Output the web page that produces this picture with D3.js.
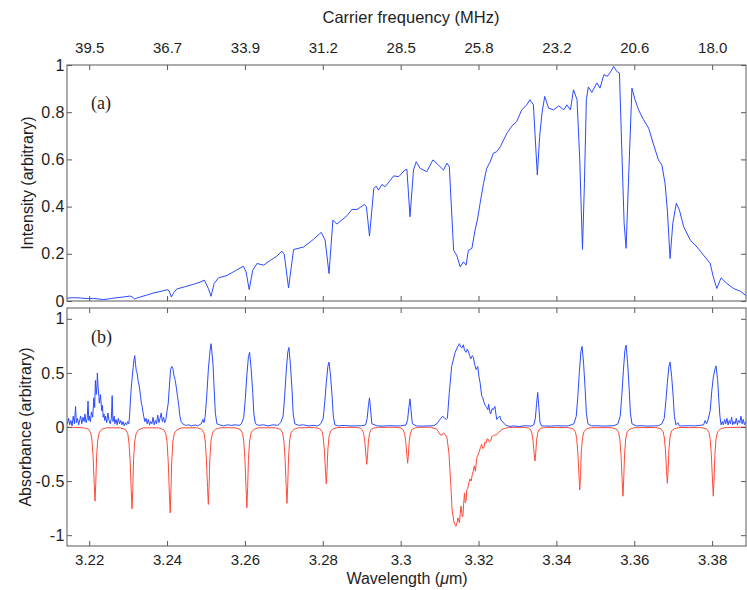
<!DOCTYPE html>
<html><head><meta charset="utf-8">
<script src="https://cdn.jsdelivr.net/npm/d3@7"></script>
<style>
html,body{margin:0;padding:0;background:#fff;}
svg{display:block;}
text{font-family:"Liberation Sans",Arial,Helvetica,sans-serif;}
</style></head><body>
<svg id="chart" width="747" height="590"></svg>
<script>
// ---- tick values / labels ----
const xTicks = [3.22, 3.24, 3.26, 3.28, 3.30, 3.32, 3.34, 3.36, 3.38];
const xTickLabels = ["3.22", "3.24", "3.26", "3.28", "3.3", "3.32", "3.34", "3.36", "3.38"];
const freqLabels = ["39.5", "36.7", "33.9", "31.2", "28.5", "25.8", "23.2", "20.6", "18.0"];
const yTicksA = [0, 0.2, 0.4, 0.6, 0.8, 1];
const yTickLabelsA = ["0", "0.2", "0.4", "0.6", "0.8", "1"];
const yTicksB = [-1, -0.5, 0, 0.5, 1];
const yTickLabelsB = ["-1", "-0.5", "0", "0.5", "1"];

// ---- panel (a): intensity spectrum ----
const wavelengthA = [3.2143,3.2160,3.2177,3.2194,3.2211,3.2237,3.2254,3.2271,3.2288,3.2305,3.2312,3.2316,3.2322,3.2331,3.2348,3.2365,3.2382,3.2400,3.2405,3.2411,3.2417,3.2425,3.2445,3.2468,3.2485,3.2496,3.2506,3.2513,3.2521,3.2532,3.2554,3.2575,3.2596,3.2603,3.2611,3.2620,3.2631,3.2648,3.2665,3.2682,3.2695,3.2701,3.2712,3.2725,3.2751,3.2776,3.2796,3.2806,3.2816,3.2826,3.2836,3.2862,3.2875,3.2888,3.2907,3.2912,3.2920,3.2931,3.2937,3.2943,3.2952,3.2960,3.2982,3.2995,3.3011,3.3016,3.3024,3.3033,3.3040,3.3050,3.3067,3.3083,3.3097,3.3110,3.3119,3.3125,3.3136,3.3144,3.3153,3.3161,3.3168,3.3174,3.3183,3.3191,3.3197,3.3204,3.3213,3.3221,3.3230,3.3238,3.3247,3.3256,3.3273,3.3286,3.3298,3.3311,3.3324,3.3332,3.3341,3.3345,3.3351,3.3357,3.3363,3.3370,3.3380,3.3393,3.3406,3.3419,3.3427,3.3436,3.3444,3.3453,3.3460,3.3467,3.3472,3.3477,3.3482,3.3491,3.3504,3.3512,3.3522,3.3531,3.3540,3.3547,3.3555,3.3562,3.3568,3.3574,3.3579,3.3585,3.3594,3.3602,3.3611,3.3624,3.3637,3.3650,3.3662,3.3671,3.3679,3.3685,3.3692,3.3699,3.3708,3.3716,3.3727,3.3744,3.3761,3.3778,3.3795,3.3803,3.3812,3.3823,3.3838,3.3855,3.3872,3.3889];
const intensityA = [0.012,0.014,0.013,0.010,0.011,0.006,0.010,0.014,0.017,0.021,0.016,0.008,0.012,0.017,0.025,0.034,0.040,0.048,0.044,0.017,0.035,0.051,0.060,0.071,0.080,0.088,0.053,0.020,0.074,0.098,0.108,0.128,0.147,0.123,0.048,0.130,0.159,0.152,0.172,0.190,0.211,0.198,0.055,0.218,0.229,0.261,0.291,0.258,0.116,0.343,0.326,0.361,0.388,0.388,0.409,0.399,0.275,0.477,0.487,0.470,0.494,0.484,0.530,0.527,0.555,0.558,0.357,0.555,0.590,0.562,0.548,0.598,0.576,0.555,0.584,0.569,0.215,0.194,0.144,0.166,0.152,0.215,0.223,0.300,0.343,0.414,0.499,0.562,0.590,0.626,0.633,0.654,0.711,0.742,0.760,0.810,0.831,0.853,0.831,0.711,0.534,0.697,0.796,0.867,0.817,0.810,0.827,0.810,0.831,0.810,0.895,0.853,0.598,0.218,0.499,0.853,0.907,0.884,0.924,0.902,0.959,0.952,0.973,0.994,0.973,0.966,0.640,0.329,0.223,0.499,0.902,0.853,0.810,0.768,0.732,0.661,0.598,0.576,0.499,0.385,0.180,0.329,0.414,0.385,0.314,0.258,0.229,0.194,0.159,0.102,0.053,0.098,0.074,0.053,0.042,0.020];

// ---- panel (b): measured absorbance (blue) ----
const wavelengthMeas = [3.2144,3.2147,3.2150,3.2153,3.2156,3.2159,3.2162,3.2165,3.2167,3.2170,3.2173,3.2176,3.2178,3.2181,3.2184,3.2187,3.2189,3.2192,3.2195,3.2197,3.2199,3.2201,3.2203,3.2206,3.2209,3.2212,3.2214,3.2216,3.2218,3.2220,3.2221,3.2223,3.2225,3.2226,3.2229,3.2232,3.2234,3.2236,3.2238,3.2240,3.2242,3.2245,3.2248,3.2251,3.2254,3.2257,3.2259,3.2261,3.2264,3.2266,3.2269,3.2272,3.2275,3.2278,3.2281,3.2284,3.2287,3.2290,3.2293,3.2296,3.2299,3.2302,3.2304,3.2306,3.2308,3.2310,3.2313,3.2315,3.2317,3.2319,3.2321,3.2323,3.2326,3.2329,3.2332,3.2334,3.2336,3.2338,3.2340,3.2343,3.2346,3.2349,3.2352,3.2355,3.2358,3.2361,3.2364,3.2367,3.2370,3.2373,3.2376,3.2379,3.2382,3.2385,3.2388,3.2391,3.2394,3.2397,3.2400,3.2403,3.2406,3.2409,3.2412,3.2415,3.2418,3.2421,3.2424,3.2427,3.2430,3.2433,3.2436,3.2440,3.2445,3.2450,3.2456,3.2462,3.2468,3.2473,3.2478,3.2483,3.2488,
3.2492,3.2495,3.2498,3.2502,3.2506,3.2509,3.2511,3.2513,3.2515,3.2518,3.2521,3.2524,3.2528,3.2535,3.2545,3.2555,3.2565,3.2575,3.2585,
3.2591,3.2597,3.2601,3.2605,3.2609,3.2612,3.2616,3.2620,3.2623,3.2627,3.2635,3.2648,3.2660,3.2672,3.2684,
3.2692,3.2698,3.2702,3.2706,3.2710,3.2713,3.2717,3.2721,3.2724,3.2728,3.2738,3.2750,3.2762,3.2775,3.2787,
3.2795,3.2801,3.2805,3.2809,3.2813,3.2816,3.2820,3.2824,3.2827,3.2831,3.2840,3.2855,3.2870,3.2885,3.2900,
3.2910,3.2914,3.2917,3.2920,3.2923,3.2926,3.2940,3.2955,3.2970,3.2985,3.3000,
3.3014,3.3018,3.3021,3.3024,3.3027,3.3030,3.3040,3.3055,3.3070,3.3085,
3.3093,3.3101,3.3108,3.3113,3.3117,3.3120,3.3125,3.3131,3.3140,3.3146,3.3151,3.3154,3.3157,3.3161,3.3164,3.3168,3.3171,3.3174,3.3177,3.3180,3.3184,3.3187,3.3190,3.3194,3.3198,3.3201,3.3204,3.3208,3.3211,3.3214,3.3217,3.3221,3.3224,3.3226,3.3229,3.3231,3.3235,3.3238,3.3242,3.3245,3.3247,3.3251,3.3255,3.3258,3.3262,3.3266,3.3271,3.3281,3.3290,3.3305,3.3320,3.3335,
3.3342,3.3346,3.3349,3.3352,3.3355,3.3358,3.3362,3.3370,3.3385,3.3400,3.3415,3.3430,
3.3445,3.3451,3.3455,3.3459,3.3463,3.3466,3.3470,3.3474,3.3477,3.3481,3.3490,3.3505,3.3520,3.3535,3.3548,
3.3558,3.3564,3.3568,3.3572,3.3576,3.3579,3.3583,3.3587,3.3590,3.3594,3.3605,3.3620,3.3635,3.3650,3.3662,
3.3671,3.3677,3.3681,3.3685,3.3689,3.3692,3.3696,3.3700,3.3703,3.3707,3.3712,3.3716,3.3725,3.3740,3.3755,3.3768,
3.3778,3.3782,3.3786,3.3789,3.3795,3.3799,3.3803,3.3807,3.3810,3.3812,3.3814,3.3817,3.3820,3.3823,
3.3826,3.3829,3.3832,3.3835,3.3838,3.3841,3.3844,3.3847,3.3850,3.3853,3.3856,3.3859,3.3862,3.3865,3.3868,3.3871,3.3874,3.3877,3.3880,3.3883,3.3886];
const absorbMeas = [0.03,0.08,0.02,0.06,0.01,0.10,0.03,0.19,0.04,0.08,0.02,0.07,0.10,0.03,0.09,0.05,0.12,0.04,0.08,0.24,0.06,0.10,0.05,0.14,0.09,0.27,0.18,0.43,0.30,0.38,0.50,0.36,0.28,0.22,0.30,0.15,0.20,0.09,0.12,0.06,0.10,0.04,0.13,0.06,0.03,0.08,0.29,0.05,0.10,0.03,0.07,0.02,0.08,0.03,0.06,0.02,0.05,0.01,0.04,0.02,0.05,0.03,0.12,0.25,0.36,0.44,0.55,0.62,0.66,0.58,0.52,0.50,0.42,0.37,0.28,0.22,0.19,0.14,0.10,0.05,0.08,0.03,0.07,0.02,0.05,0.03,0.09,0.02,0.06,0.03,0.11,0.04,0.08,0.13,0.05,0.09,0.04,0.07,0.15,0.22,0.38,0.53,0.56,0.54,0.47,0.43,0.36,0.28,0.20,0.10,0.05,0.03,0.02,0.015,0.02,0.01,0.015,0.02,0.01,0.02,0.03,
0.07,0.04,0.10,0.29,0.53,0.65,0.72,0.77,0.70,0.58,0.35,0.13,0.03,0.02,0.01,0.02,0.015,0.02,0.015,
0.03,0.09,0.26,0.48,0.65,0.69,0.54,0.32,0.12,0.03,0.015,0.02,0.01,0.02,0.015,
0.04,0.10,0.28,0.51,0.69,0.735,0.57,0.34,0.12,0.03,0.015,0.02,0.01,0.015,0.01,
0.03,0.08,0.23,0.41,0.56,0.60,0.47,0.28,0.10,0.02,0.01,0.015,0.01,0.01,0.012,
0.02,0.08,0.19,0.27,0.15,0.03,0.01,0.008,0.012,0.01,0.01,
0.02,0.07,0.18,0.26,0.14,0.03,0.01,0.008,0.01,0.012,
0.03,0.07,0.10,0.08,0.07,0.08,0.32,0.56,0.69,0.74,0.77,0.74,0.73,0.76,0.71,0.69,0.72,0.70,0.66,0.63,0.66,0.64,0.58,0.53,0.56,0.47,0.41,0.29,0.27,0.23,0.20,0.18,0.16,0.21,0.14,0.12,0.17,0.16,0.19,0.11,0.07,0.09,0.10,0.06,0.05,0.03,0.015,0.005,0.01,0.005,0.012,0.008,
0.02,0.08,0.21,0.32,0.18,0.04,0.01,0.01,0.008,0.012,0.01,0.01,
0.03,0.10,0.28,0.51,0.70,0.745,0.58,0.34,0.13,0.03,0.01,0.012,0.008,0.01,0.012,
0.03,0.10,0.29,0.52,0.71,0.757,0.59,0.35,0.13,0.03,0.01,0.012,0.008,0.01,0.012,
0.03,0.08,0.23,0.41,0.56,0.60,0.47,0.28,0.10,0.02,0.04,0.01,0.01,0.012,0.01,0.015,
0.02,0.06,0.03,0.06,0.15,0.33,0.46,0.53,0.565,0.50,0.44,0.26,0.10,0.02,
0.05,0.02,0.07,0.03,0.08,0.02,0.06,0.03,0.09,0.02,0.05,0.03,0.08,0.02,0.06,0.04,0.10,0.03,0.07,0.02,0.05];

// ---- panel (b): simulated absorbance (red, plotted negative) ----
const wavelengthSim = [3.2143,3.2185,3.2198,3.2204,3.2207,3.2210,3.2213,3.2215,3.2217,3.2219,3.2222,3.2226,3.2233,3.2245,
3.2280,3.2293,3.2299,3.2302,3.2305,3.2308,3.2310,3.2312,3.2314,3.2317,3.2321,3.2328,3.2340,
3.2378,3.2391,3.2397,3.2400,3.2403,3.2406,3.2408,3.2410,3.2412,3.2415,3.2419,3.2426,3.2438,
3.2476,3.2489,3.2495,3.2498,3.2501,3.2504,3.2506,3.2508,3.2510,3.2513,3.2517,3.2524,3.2536,
3.2575,3.2588,3.2594,3.2597,3.2600,3.2603,3.2605,3.2607,3.2609,3.2612,3.2616,3.2623,3.2635,
3.2678,3.2691,3.2697,3.2700,3.2703,3.2706,3.2708,3.2710,3.2712,3.2715,3.2719,3.2726,3.2738,
3.2779,3.2792,3.2798,3.2801,3.2804,3.2807,3.2809,3.2811,3.2813,3.2816,3.2820,3.2827,3.2839,
3.2883,3.2896,3.2902,3.2905,3.2908,3.2911,3.2913,3.2915,3.2917,3.2920,3.2924,3.2931,3.2943,
3.2988,3.3001,3.3007,3.3010,3.3013,3.3016,3.3018,3.3020,3.3022,3.3025,3.3029,3.3036,3.3048,
3.3076,3.3093,3.3101,3.3106,3.3110,3.3115,3.3119,3.3124,3.3129,3.3132,3.3137,3.3142,3.3145,3.3147,3.3151,3.3153,3.3155,3.3158,3.3160,3.3162,3.3164,3.3166,3.3168,3.3170,3.3172,3.3175,3.3178,3.3181,3.3184,3.3187,3.3189,3.3192,3.3195,3.3197,3.3200,3.3202,3.3205,3.3208,3.3211,3.3214,3.3216,3.3219,3.3222,3.3225,3.3228,3.3231,3.3234,3.3238,3.3242,3.3247,3.3251,3.3255,3.3260,3.3266,3.3277,
3.3315,3.3328,3.3334,3.3337,3.3340,3.3343,3.3345,3.3347,3.3349,3.3352,3.3356,3.3363,3.3375,
3.3430,3.3443,3.3449,3.3452,3.3455,3.3458,3.3460,3.3462,3.3464,3.3467,3.3471,3.3478,3.3490,
3.3541,3.3554,3.3560,3.3563,3.3566,3.3569,3.3571,3.3573,3.3575,3.3578,3.3582,3.3589,3.3601,
3.3655,3.3668,3.3674,3.3677,3.3680,3.3683,3.3685,3.3687,3.3689,3.3692,3.3696,3.3703,3.3715,
3.3773,3.3786,3.3792,3.3795,3.3798,3.3801,3.3803,3.3805,3.3807,3.3810,3.3814,3.3821,3.3833,3.3887];
const absorbSim = [-0.002,-0.007,-0.02,-0.055,-0.12,-0.27,-0.53,-0.685,-0.51,-0.27,-0.12,-0.05,-0.02,-0.007,
-0.008,-0.023,-0.06,-0.14,-0.30,-0.59,-0.756,-0.57,-0.30,-0.13,-0.053,-0.023,-0.008,
-0.008,-0.024,-0.063,-0.14,-0.32,-0.62,-0.793,-0.59,-0.32,-0.13,-0.055,-0.024,-0.008,
-0.007,-0.021,-0.057,-0.13,-0.29,-0.56,-0.716,-0.54,-0.29,-0.12,-0.05,-0.021,-0.007,
-0.007,-0.022,-0.06,-0.13,-0.30,-0.58,-0.746,-0.56,-0.30,-0.13,-0.052,-0.022,-0.007,
-0.007,-0.021,-0.056,-0.13,-0.28,-0.55,-0.706,-0.53,-0.28,-0.12,-0.05,-0.021,-0.007,
-0.005,-0.016,-0.042,-0.094,-0.21,-0.41,-0.524,-0.39,-0.21,-0.089,-0.037,-0.016,-0.005,
-0.003,-0.01,-0.028,-0.062,-0.14,-0.27,-0.345,-0.26,-0.14,-0.059,-0.024,-0.01,-0.003,
-0.003,-0.01,-0.027,-0.06,-0.134,-0.26,-0.335,-0.25,-0.134,-0.057,-0.023,-0.01,-0.003,
-0.002,-0.02,-0.07,-0.075,-0.055,-0.07,-0.10,-0.24,-0.55,-0.76,-0.885,-0.917,-0.88,-0.84,-0.885,-0.80,-0.73,-0.83,-0.82,-0.70,-0.61,-0.70,-0.68,-0.58,-0.57,-0.52,-0.48,-0.50,-0.44,-0.40,-0.36,-0.41,-0.30,-0.27,-0.25,-0.225,-0.19,-0.16,-0.20,-0.19,-0.14,-0.15,-0.11,-0.114,-0.14,-0.13,-0.09,-0.08,-0.075,-0.07,-0.05,-0.04,-0.025,-0.015,-0.004,
-0.003,-0.009,-0.025,-0.057,-0.126,-0.25,-0.315,-0.24,-0.126,-0.054,-0.022,-0.009,-0.003,
-0.006,-0.017,-0.047,-0.105,-0.23,-0.45,-0.583,-0.44,-0.23,-0.099,-0.041,-0.017,-0.006,
-0.006,-0.019,-0.051,-0.115,-0.26,-0.50,-0.64,-0.48,-0.26,-0.109,-0.045,-0.019,-0.006,
-0.005,-0.016,-0.042,-0.094,-0.21,-0.41,-0.52,-0.39,-0.21,-0.088,-0.036,-0.016,-0.005,
-0.006,-0.019,-0.051,-0.115,-0.26,-0.50,-0.64,-0.48,-0.26,-0.109,-0.045,-0.019,-0.006,-0.001];

// ---- drawing ----
const svg = d3.select("#chart");
const L = 67, R = 746;
const aTop = 65, aBot = 301, bTop = 308, bBot = 546;
const frameColor = "#5a5a5a", textColor = "#1e1e1e";
const blue = "#2b4bff", red = "#ff4a3a";

const x = d3.scaleLinear().domain([3.2143, 3.3887]).range([L, R]);
const yA = d3.scaleLinear().domain([0, 1]).range([aBot, aTop]);
const yB = d3.scaleLinear().domain([-1.1, 1.1]).range([bBot, bTop]);

const defs = svg.append("defs");
defs.append("clipPath").attr("id", "clipA").append("rect")
  .attr("x", L).attr("y", aTop).attr("width", R - L).attr("height", aBot - aTop);
defs.append("clipPath").attr("id", "clipB").append("rect")
  .attr("x", L).attr("y", bTop).attr("width", R - L).attr("height", bBot - bTop);

function styleAxis(size, spacing) {
  return (g) => {
    g.select(".domain").remove();
    g.selectAll(".tick line").attr("stroke", frameColor).attr("stroke-width", 1);
    g.selectAll(".tick text").attr("fill", textColor)
      .style("font-family", '"Liberation Sans", Arial, sans-serif')
      .style("font-size", size + "px")
      .style("letter-spacing", (spacing || 0) + "px");
  };
}

const lineA = d3.line().x((d, i) => x(wavelengthA[i])).y((d) => yA(d));
svg.append("path").datum(intensityA).attr("clip-path", "url(#clipA)")
  .attr("d", lineA).attr("fill", "none").attr("stroke", blue).attr("stroke-width", 1);

const lineSim = d3.line().x((d, i) => x(wavelengthSim[i])).y((d) => yB(d));
svg.append("path").datum(absorbSim).attr("clip-path", "url(#clipB)")
  .attr("d", lineSim).attr("fill", "none").attr("stroke", red).attr("stroke-width", 1);

const lineMeas = d3.line().x((d, i) => x(wavelengthMeas[i])).y((d) => yB(d));
svg.append("path").datum(absorbMeas).attr("clip-path", "url(#clipB)")
  .attr("d", lineMeas).attr("fill", "none").attr("stroke", blue).attr("stroke-width", 1);

// Panel (a) axes
svg.append("g").attr("transform", `translate(0,${aTop})`)
  .call(d3.axisTop(x).tickValues(xTicks).tickSize(-5).tickPadding(12)
    .tickFormat((d, i) => freqLabels[i])).call(styleAxis(15));
svg.append("g").attr("transform", `translate(0,${aBot})`)
  .call(d3.axisBottom(x).tickValues(xTicks).tickSize(-5).tickFormat("")).call(styleAxis(15));
svg.append("g").attr("transform", `translate(${L},0)`)
  .call(d3.axisLeft(yA).tickValues(yTicksA).tickSize(-5).tickPadding(2)
    .tickFormat((d, i) => yTickLabelsA[i])).call(styleAxis(16, 0.5));
svg.append("g").attr("transform", `translate(${R},0)`)
  .call(d3.axisRight(yA).tickValues(yTicksA).tickSize(-5).tickFormat("")).call(styleAxis(15));

// Panel (b) axes
svg.append("g").attr("transform", `translate(0,${bTop})`)
  .call(d3.axisTop(x).tickValues(xTicks).tickSize(-5).tickFormat("")).call(styleAxis(15));
svg.append("g").attr("transform", `translate(0,${bBot})`)
  .call(d3.axisBottom(x).tickValues(xTicks).tickSize(-5).tickPadding(8)
    .tickFormat((d, i) => xTickLabels[i])).call(styleAxis(15));
svg.append("g").attr("transform", `translate(${L},0)`)
  .call(d3.axisLeft(yB).tickValues(yTicksB).tickSize(-5).tickPadding(2)
    .tickFormat((d, i) => yTickLabelsB[i])).call(styleAxis(16, 0.5));
svg.append("g").attr("transform", `translate(${R},0)`)
  .call(d3.axisRight(yB).tickValues(yTicksB).tickSize(-5).tickFormat("")).call(styleAxis(15));

// frames
svg.append("rect").attr("x", L).attr("y", aTop).attr("width", R - L).attr("height", aBot - aTop)
  .attr("fill", "none").attr("stroke", frameColor).attr("stroke-width", 1);
svg.append("rect").attr("x", L).attr("y", bTop).attr("width", R - L).attr("height", bBot - bTop)
  .attr("fill", "none").attr("stroke", frameColor).attr("stroke-width", 1);

// titles
svg.append("text").attr("x", 411).attr("y", 23).attr("text-anchor", "middle")
  .attr("fill", textColor).style("font-size", "16.5px").text("Carrier frequency (MHz)");
const wl = svg.append("text").attr("x", 407).attr("y", 584).attr("text-anchor", "middle")
  .attr("fill", textColor).style("font-size", "16px");
wl.append("tspan").text("Wavelength (");
wl.append("tspan").style("font-style", "italic").text("\u03bc");
wl.append("tspan").text("m)");

svg.append("text").attr("transform", `translate(33,${(aTop + aBot) / 2}) rotate(-90)`)
  .attr("text-anchor", "middle").attr("fill", textColor).style("font-size", "16px")
  .text("Intensity (arbitrary)");
svg.append("text").attr("transform", `translate(31,${(bTop + bBot) / 2}) rotate(-90)`)
  .attr("text-anchor", "middle").attr("fill", textColor).style("font-size", "16px")
  .text("Absorbance (arbitrary)");

svg.append("text").attr("x", 91).attr("y", 109).attr("fill", textColor)
  .style("font-family", '"Liberation Serif", "Times New Roman", serif').style("font-size", "18px").text("(a)");
svg.append("text").attr("x", 91).attr("y", 343).attr("fill", textColor)
  .style("font-family", '"Liberation Serif", "Times New Roman", serif').style("font-size", "18px").text("(b)");
</script>
</body></html>
